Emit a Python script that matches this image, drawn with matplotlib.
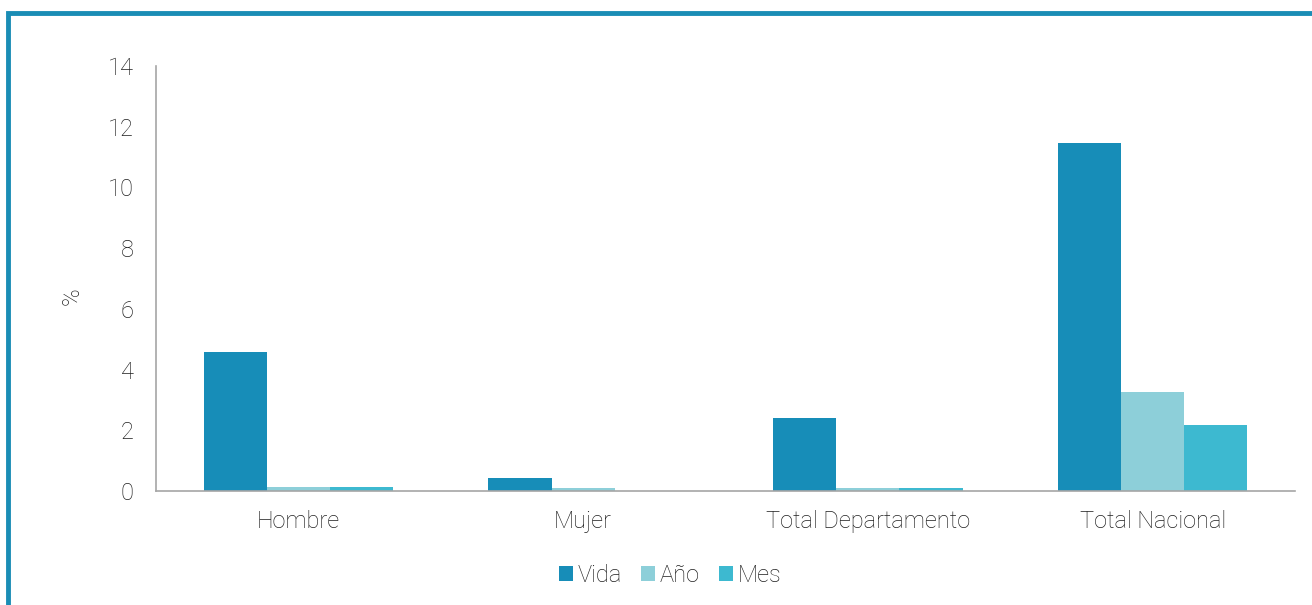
import matplotlib.pyplot as plt
import numpy as np
from matplotlib.patches import Rectangle

categories = ['Hombre', 'Mujer', 'Total Departamento', 'Total Nacional']
series = ['Vida', 'Año', 'Mes']
vida = [4.58, 0.43, 2.40, 11.46]
anio = [0.13, 0.10, 0.10, 3.26]
mes = [0.13, 0.0, 0.10, 2.17]
colors = ['#178db8', '#8dcfd9', '#3db9d0']

plt.rcParams['font.family'] = ['Roboto', 'DejaVu Sans']
plt.rcParams['font.weight'] = 'light'

fig = plt.figure(figsize=(13.12, 6.05), dpi=100)
ax = fig.add_axes([156 / 1312, 1 - 491 / 605, (1295 - 156) / 1312, (491 - 66) / 605])

x = np.arange(len(categories))
w = 0.222
for i, (vals, name) in enumerate(zip([vida, anio, mes], series)):
    ax.bar(x + (i - 1) * w, vals, w, color=colors[i], label=name)

ax.set_xlim(-0.5, len(categories) - 0.5)
ax.set_ylim(0, 14)
ax.set_yticks(range(0, 15, 2))
ax.set_xticks(x)
ax.set_xticklabels(categories)
ax.tick_params(length=0, labelsize=17, colors='#1f1f1f', pad=14)
ax.tick_params(axis='y', pad=16)
for s in ['top', 'right']:
    ax.spines[s].set_visible(False)
for s in ['left', 'bottom']:
    ax.spines[s].set_color('#a6a6a6')
    ax.spines[s].set_linewidth(1.2)
ax.set_ylabel('%', fontsize=17, color='#1f1f1f', fontweight='light')
ax.yaxis.set_label_coords(-72 / (1295 - 156), (491 - 296) / 425)

fig.legend(loc='center', bbox_to_anchor=(670 / 1312, 1 - 575 / 605), ncol=3,
           frameon=False, fontsize=17, handlelength=0.6, handleheight=0.6,
           handletextpad=0.2, columnspacing=0.8, labelcolor='#1f1f1f')

# border frame
fig.patches.append(Rectangle((8 / 1312, -0.1), 1.2, (1 - 13 / 605) + 0.1,
                             transform=fig.transFigure, fill=False,
                             edgecolor='#1a8db5', linewidth=3.5))

fig.savefig('out.png', dpi=100)
